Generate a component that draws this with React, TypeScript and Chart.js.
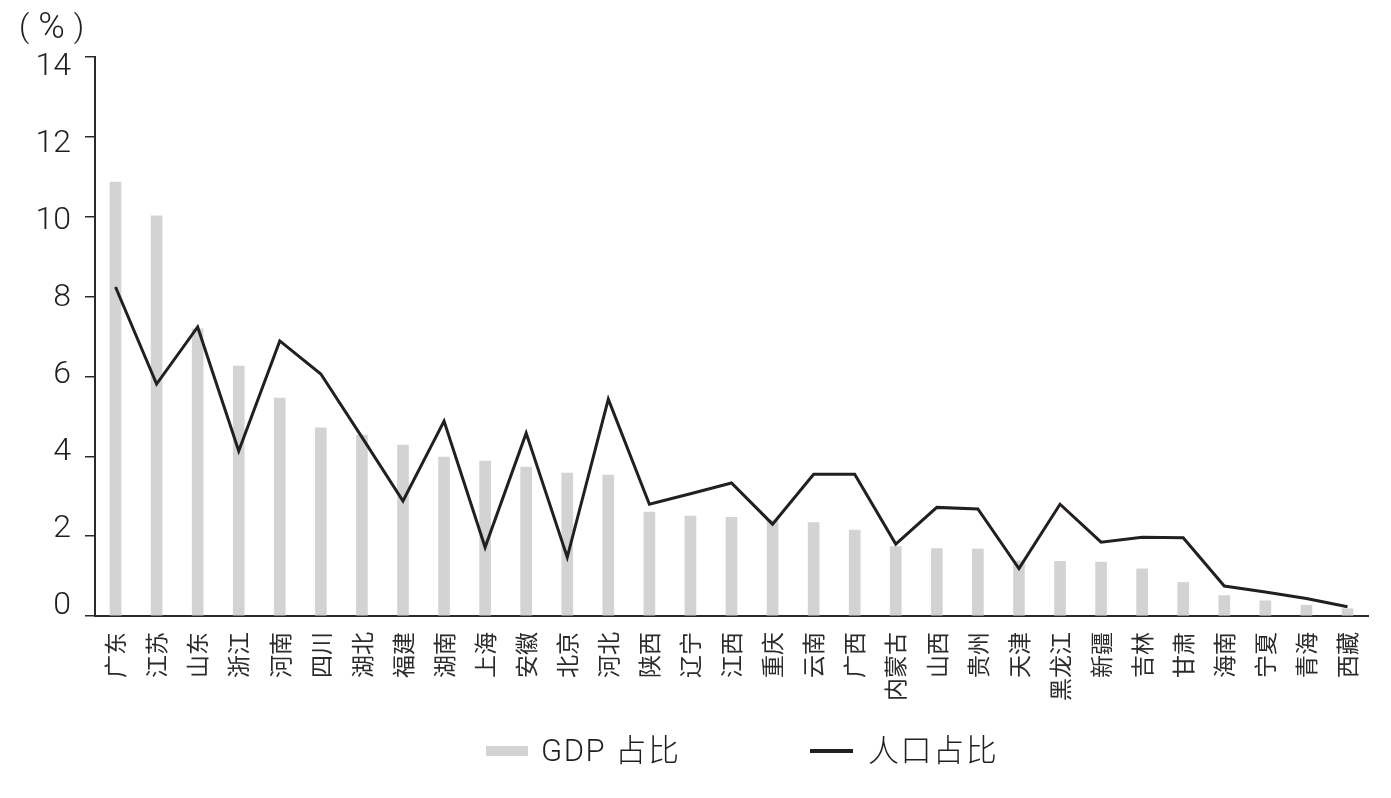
import React, { useEffect, useRef } from 'react';
import { Chart, registerables } from 'chart.js';

Chart.register(...registerables);

const provinces = ['广东', '江苏', '山东', '浙江', '河南', '四川', '湖北', '福建', '湖南', '上海', '安徽', '北京', '河北', '陕西', '辽宁', '江西', '重庆', '云南', '广西', '内蒙古', '山西', '贵州', '天津', '黑龙江', '新疆', '吉林', '甘肃', '海南', '宁夏', '青海', '西藏'];
const gdpShare = [10.87, 10.02, 7.19, 6.26, 5.46, 4.71, 4.53, 4.28, 3.98, 3.88, 3.73, 3.58, 3.53, 2.6, 2.5, 2.47, 2.4, 2.34, 2.15, 1.74, 1.69, 1.68, 1.38, 1.37, 1.35, 1.18, 0.84, 0.51, 0.38, 0.27, 0.18];
const popShare = [8.24, 5.81, 7.24, 4.13, 6.89, 6.06, 4.48, 2.88, 4.88, 1.72, 4.58, 1.47, 5.43, 2.8, 3.06, 3.33, 2.3, 3.55, 3.55, 1.8, 2.72, 2.68, 1.19, 2.8, 1.85, 1.97, 1.96, 0.75, 0.6, 0.44, 0.23];
const yMin = 0;
const yMax = 14;
const yStep = 2;
const yTickValues = [0, 2, 4, 6, 8, 10, 12, 14];
// the reference prints its tick labels on a slightly compressed scale
const yLabelMin = -0.25;
const yLabelMax = 14.25;
const unitParts = ['(', '%', ')'];
const seriesNames = ['GDP 占比', '人口占比'];

const GRAY = '#d3d3d3';
const INK = '#231f20';
const AXIS = '#2b2b2b';

export default function App() {
  const canvasRef = useRef<HTMLCanvasElement | null>(null);

  useEffect(() => {
    document.body.style.margin = '0';
    const canvas = canvasRef.current;
    if (!canvas) return;
    const chart = new Chart(canvas, {
      data: {
        labels: provinces,
        datasets: [
          {
            type: 'line',
            label: seriesNames[1],
            data: popShare,
            borderColor: INK,
            borderWidth: 3,
            pointRadius: 0,
            tension: 0,
            borderJoinStyle: 'miter',
            yAxisID: 'y',
            order: 0,
          },
          {
            type: 'bar',
            label: seriesNames[0],
            data: gdpShare,
            backgroundColor: GRAY,
            barThickness: 11,
            yAxisID: 'y',
            order: 1,
          },
        ],
      } as any,
      options: {
        animation: false,
        responsive: true,
        maintainAspectRatio: false,
        layout: { padding: { top: 57, left: 0, right: 23, bottom: 0 } },
        plugins: {
          legend: { display: false },
          tooltip: { enabled: false },
          title: { display: false },
        },
        scales: {
          x: {
            type: 'category',
            grid: { display: false },
            border: { display: true, color: AXIS, width: 2 },
            ticks: {
              autoSkip: false,
              maxRotation: 90,
              minRotation: 90,
              padding: 8,
              color: AXIS,
              font: { family: '"Noto Sans CJK SC", "Noto Sans", sans-serif', size: 23, weight: 400 as any },
            },
            afterFit: (scale: any) => {
              scale.height = 182;
            },
          },
          y: {
            type: 'linear',
            position: 'left',
            weight: 0,
            min: yMin,
            max: yMax,
            grid: {
              drawOnChartArea: false,
              drawTicks: true,
              tickLength: 10,
              color: AXIS,
              lineWidth: 1.5,
            },
            border: { display: true, color: AXIS, width: 2 },
            ticks: { stepSize: yStep, display: false },
            afterFit: (scale: any) => {
              scale.width = 10;
            },
          },
          yLabels: {
            type: 'linear',
            position: 'left',
            weight: 1,
            min: yLabelMin,
            max: yLabelMax,
            grid: { display: false, drawTicks: false },
            border: { display: false },
            afterBuildTicks: (scale: any) => {
              scale.ticks = yTickValues.map((v) => ({ value: v }));
            },
            ticks: {
              padding: 14,
              color: '#1f1f1f',
              font: { family: 'Roboto, "Noto Sans", sans-serif', size: 32, weight: 300 as any },
              callback: (v: any) => String(v),
            },
            afterFit: (scale: any) => {
              scale.width = 85;
            },
          },
        },
      } as any,
    });
    return () => chart.destroy();
  }, []);

  const legendText: React.CSSProperties = {
    fontFamily: 'Roboto, "Noto Sans CJK SC", sans-serif',
    fontWeight: 300,
    fontSize: 31,
    color: '#1f1f1f',
    letterSpacing: '0.05em',
    lineHeight: '32px',
    whiteSpace: 'nowrap',
  };

  const unitFont: React.CSSProperties = {
    fontFamily: 'Roboto, "Noto Sans", sans-serif',
    fontWeight: 300,
    color: '#1f1f1f',
  };

  return (
    <div style={{ position: 'relative', width: 1391, height: 798, background: '#fff', overflow: 'hidden' }}>
      <canvas ref={canvasRef} style={{ position: 'absolute', left: 0, top: 0, width: 1391, height: 798 }} />
      <div
        style={{
          position: 'absolute',
          left: 19,
          top: 7,
          height: 38,
          display: 'flex',
          alignItems: 'center',
          gap: 9,
          lineHeight: '38px',
          whiteSpace: 'nowrap',
        }}
      >
        <span style={{ ...unitFont, fontSize: 32 }}>{unitParts[0]}</span>
        <span style={{ ...unitFont, fontSize: 36 }}>{unitParts[1]}</span>
        <span style={{ ...unitFont, fontSize: 32 }}>{unitParts[2]}</span>
      </div>
      <div style={{ position: 'absolute', left: 486, top: 735, display: 'flex', alignItems: 'center', height: 32 }}>
        <div style={{ width: 42, height: 10, background: GRAY, marginRight: 13 }} />
        <div style={legendText}>{seriesNames[0]}</div>
      </div>
      <div style={{ position: 'absolute', left: 810, top: 735, display: 'flex', alignItems: 'center', height: 32 }}>
        <div style={{ width: 43, height: 4, background: INK, marginRight: 15 }} />
        <div style={legendText}>{seriesNames[1]}</div>
      </div>
    </div>
  );
}
